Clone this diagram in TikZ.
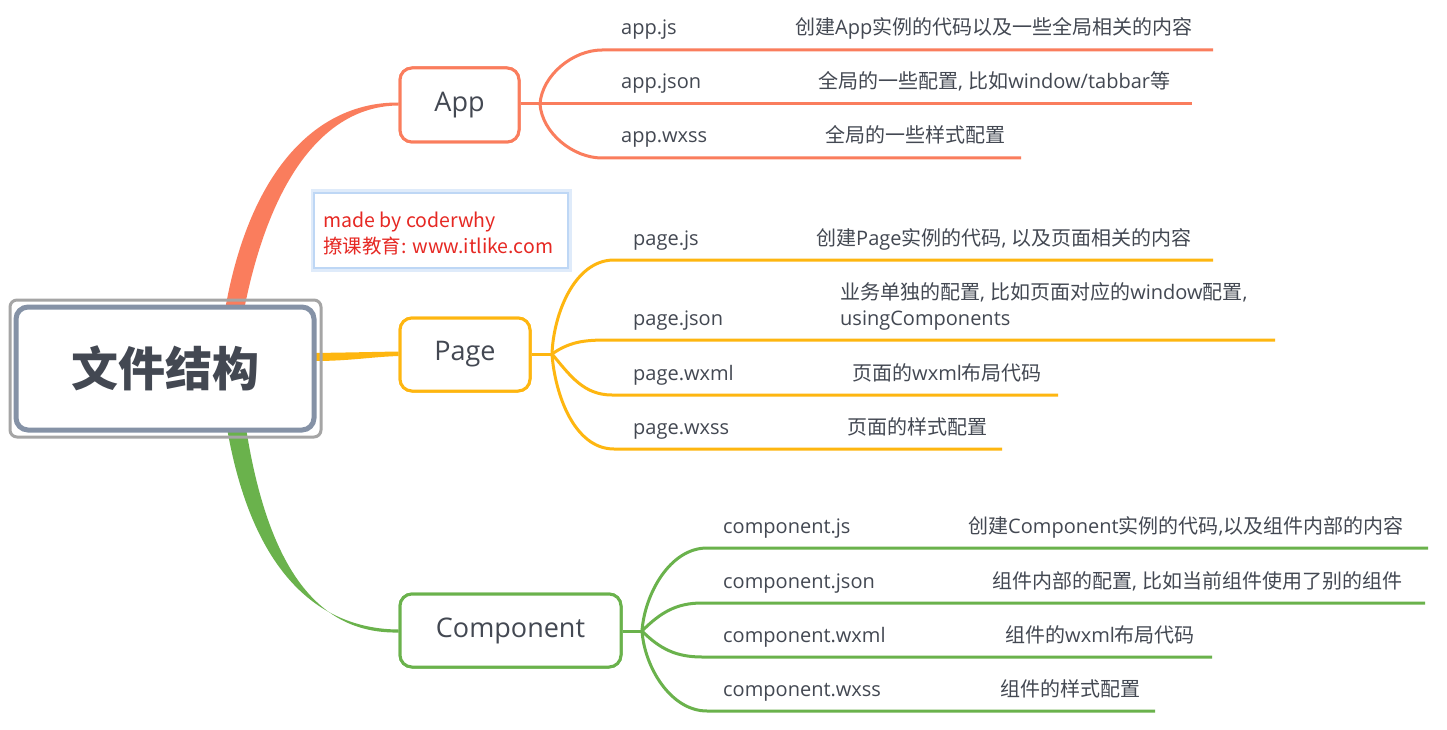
\documentclass[tikz,border=0pt]{standalone}
\usepackage{fontspec}
\usetikzlibrary{calc}
\setmainfont{Open Sans}
\newfontfamily\cjk{Noto Sans CJK SC}
\newcommand\zh[1]{{\cjk #1}}
\definecolor{appc}{RGB}{250,125,93}
\definecolor{pagec}{RGB}{254,182,16}
\definecolor{compc}{RGB}{106,178,76}
\definecolor{txt}{RGB}{67,72,82}
\definecolor{rootc}{RGB}{133,146,166}
\definecolor{rootout}{RGB}{165,165,165}
\definecolor{wmred}{RGB}{230,40,35}
\definecolor{wmblue}{RGB}{190,215,245}
\begin{document}
\begin{tikzpicture}[x=1pt,y=-1pt,
  lbl/.style={font=\fontsize{20}{24}\selectfont, text=txt, anchor=base west, inner sep=0pt},
  mbox/.style={draw=#1, line width=3pt, rounded corners=12pt, fill=white, text=txt,
    font=\fontsize{27}{32}\selectfont, inner sep=0pt},
  br/.style={draw=#1, line width=3pt}]
\useasboundingbox[fill=white] (0,0) rectangle (1447,730);

% main boxes
\node[mbox=appc, minimum width=119pt, minimum height=74pt] (app) at (459.5,105) {App};
\node[mbox=pagec, minimum width=130pt, minimum height=73pt] (page) at (465,354.5) {Page};
\node[mbox=compc, minimum width=221pt, minimum height=73pt] (comp) at (510.5,630.5) {Component};

% root connectors (tapered)
\coordinate (ra) at (225,310);
\coordinate (rb) at (244,310);
\coordinate (rc) at (314,353);
\coordinate (rd) at (314,361);
\coordinate (re) at (227,428);
\coordinate (rf) at (246,428);
\fill[appc] (ra) .. controls (250,168) and (318,102) .. ($(app.west)+(0,-2.5)$)
  -- ($(app.west)+(0,0.5)$) .. controls (325,106) and (270,178) .. (rb) -- cycle;
\fill[pagec] (rc) .. controls (350,352.5) and (370,352) .. ($(page.west)+(0,-3)$)
  -- ($(page.west)+(0,1.5)$) .. controls (370,357) and (350,361) .. (rd) -- cycle;
\fill[compc] (re) .. controls (252,572) and (318,629) .. ($(comp.west)+(0,-1)$)
  -- ($(comp.west)+(0,2)$) .. controls (325,634) and (270,580) .. (rf) -- cycle;

% redraw boxes on top
\node[mbox=appc, minimum width=119pt, minimum height=74pt] at (app) {App};
\node[mbox=pagec, minimum width=130pt, minimum height=73pt] at (page) {Page};
\node[mbox=compc, minimum width=221pt, minimum height=73pt] at (comp) {Component};

% root
\node[draw=rootout, line width=3pt, rounded corners=7pt, minimum width=311pt, minimum height=137pt] (rootout) at (165.5,368.5) {};
\node[draw=rootc, line width=5pt, rounded corners=12pt, fill=white, minimum width=298pt, minimum height=123pt,
  text=txt, font=\cjk\bfseries\fontsize{47}{52}\selectfont] (root) at (165,368.5) {文件结构};

% ---- App branches
\coordinate (abp) at (540,104);
\coordinate (a1s) at (602,50);  \coordinate (a1e) at (1213,50);
\coordinate (a2e) at (1192,104);
\coordinate (a3s) at (602,158); \coordinate (a3e) at (1021,158);
\draw[br=appc] (app.east |- abp) -- (abp);
\draw[br=appc] (abp) to[out=86,in=180,looseness=0.9] (a1s) -- (a1e);
\draw[br=appc] (abp) -- (a2e);
\draw[br=appc] (abp) to[out=-86,in=180,looseness=0.9] (a3s) -- (a3e);
\node[lbl] (a1) at (621,35) {app.js};
\node[lbl] (a1d) at (795,35) {\zh{创建}App\zh{实例的代码以及一些全局相关的内容}};
\node[lbl] (a2) at (621,89) {app.json};
\node[lbl] (a2d) at (818,89) {\zh{全局的一些配置}, \zh{比如}window/tabbar\zh{等}};
\node[lbl] (a3) at (621,143) {app.wxss};
\node[lbl] (a3d) at (825,143) {\zh{全局的一些样式配置}};

% ---- Page branches
\coordinate (pbp) at (552,354);
\coordinate (p1s) at (614,260); \coordinate (p1e) at (1213,260);
\coordinate (p2s) at (612,340); \coordinate (p2e) at (1275,340);
\coordinate (p3s) at (612,395); \coordinate (p3e) at (1058,395);
\coordinate (p4s) at (614,449); \coordinate (p4e) at (1002,449);
\draw[br=pagec] (page.east |- pbp) -- (pbp);
\draw[br=pagec] (pbp) to[out=88,in=180,looseness=0.9] (p1s) -- (p1e);
\draw[br=pagec] (pbp) to[out=35,in=180] (p2s) -- (p2e);
\draw[br=pagec] (pbp) to[out=-50,in=180] (p3s) -- (p3e);
\draw[br=pagec] (pbp) to[out=-86,in=180,looseness=0.9] (p4s) -- (p4e);
\node[lbl] (p1) at (633,245) {page.js};
\node[lbl] (p1d) at (816,245) {\zh{创建}Page\zh{实例的代码}, \zh{以及页面相关的内容}};
\node[lbl] (p2) at (633,325) {page.json};
\node[lbl] (p2d) at (840,299) {\zh{业务单独的配置}, \zh{比如页面对应的}window\zh{配置},};
\node[lbl] (p2e2) at (840,325) {usingComponents};
\node[lbl] (p3) at (633,380) {page.wxml};
\node[lbl] (p3d) at (852,380) {\zh{页面的}wxml\zh{布局代码}};
\node[lbl] (p4) at (633,434) {page.wxss};
\node[lbl] (p4d) at (847,434) {\zh{页面的样式配置}};

% ---- Component branches
\coordinate (cbp) at (642,631);
\coordinate (c1s) at (707,548); \coordinate (c1e) at (1428,548);
\coordinate (c2s) at (702,603); \coordinate (c2e) at (1425,603);
\coordinate (c3s) at (702,657); \coordinate (c3e) at (1212,657);
\coordinate (c4s) at (707,711); \coordinate (c4e) at (1155,711);
\draw[br=compc] (comp.east |- cbp) -- (cbp);
\draw[br=compc] (cbp) to[out=86,in=180,looseness=0.9] (c1s) -- (c1e);
\draw[br=compc] (cbp) to[out=45,in=180] (c2s) -- (c2e);
\draw[br=compc] (cbp) to[out=-45,in=180] (c3s) -- (c3e);
\draw[br=compc] (cbp) to[out=-86,in=180,looseness=0.9] (c4s) -- (c4e);
\node[lbl] (c1) at (723,533) {component.js};
\node[lbl] (c1d) at (968,533) {\zh{创建}Component\zh{实例的代码},\zh{以及组件内部的内容}};
\node[lbl] (c2) at (723,588) {component.json};
\node[lbl] (c2d) at (992,588) {\zh{组件内部的配置}, \zh{比如当前组件使用了别的组件}};
\node[lbl] (c3) at (723,642) {component.wxml};
\node[lbl] (c3d) at (1005,642) {\zh{组件的}wxml\zh{布局代码}};
\node[lbl] (c4) at (723,696) {component.wxss};
\node[lbl] (c4d) at (1000,696) {\zh{组件的样式配置}};

% ---- watermark box
\node[draw=wmblue!50, line width=5pt, minimum width=256pt, minimum height=77pt] (wmshadow) at (441,230.5) {};
\node[draw=wmblue, fill=white, line width=1.5pt, minimum width=254pt, minimum height=75pt] (wm) at (441,230.5) {};
\node[anchor=base west, inner sep=0pt, text=wmred, font=\cjk\fontsize{19.5}{24}\selectfont] (wm1) at (323,227) {made by coderwhy};
\node[anchor=base west, inner sep=0pt, text=wmred, font=\cjk\fontsize{19.5}{24}\selectfont] (wm2) at (323,253) {撩课教育: www.itlike.com};
\end{tikzpicture}
\end{document}
